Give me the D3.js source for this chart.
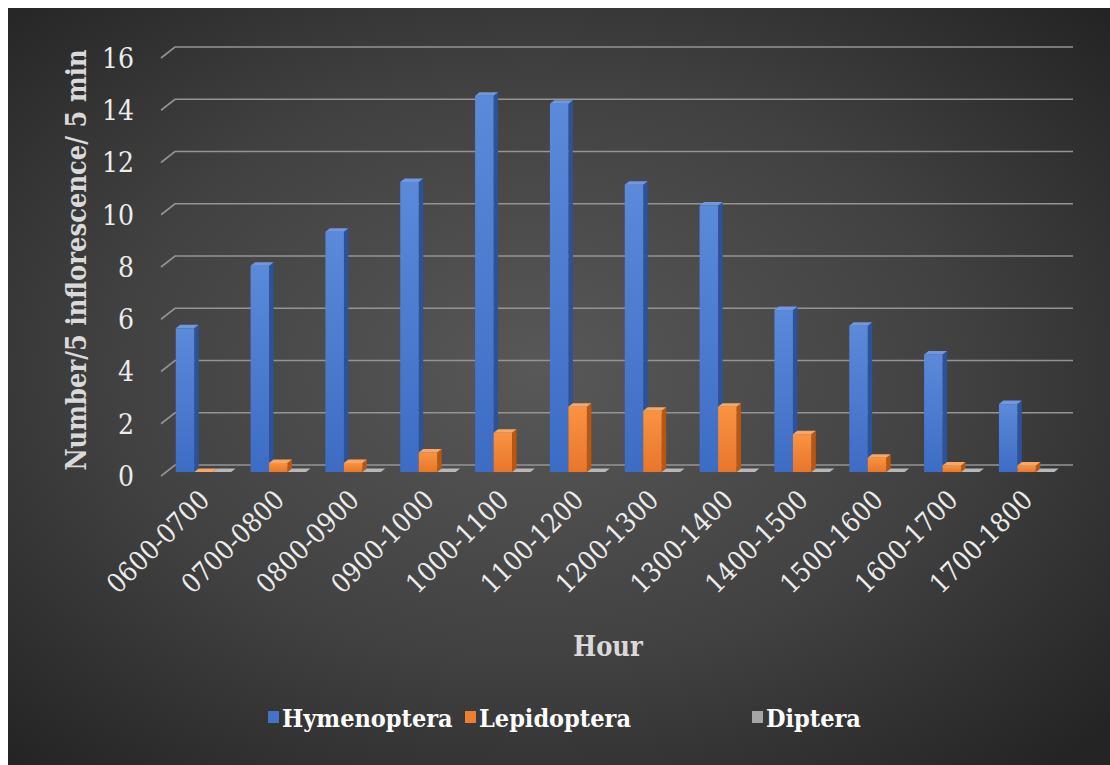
<!DOCTYPE html>
<html>
<head>
<meta charset="utf-8">
<script src="https://cdn.jsdelivr.net/npm/d3@7"></script>
<style>
  html, body { margin: 0; padding: 0; background: #ffffff; }
  svg { display: block; }
  svg text { font-family: "DejaVu Serif", serif; font-stretch: condensed; }
</style>
</head>
<body>
<svg id="chart" width="1110" height="765"></svg>
<script>
// Visits per 5 inflorescences per 5 minutes, by hour of day
const hours = ["0600-0700", "0700-0800", "0800-0900", "0900-1000", "1000-1100", "1100-1200",
               "1200-1300", "1300-1400", "1400-1500", "1500-1600", "1600-1700", "1700-1800"];
const seriesNames = ["Hymenoptera", "Lepidoptera", "Diptera"];
const hymenoptera = [5.5, 7.9, 9.2, 11.1, 14.4, 14.1, 11.0, 10.2, 6.2, 5.6, 4.5, 2.6];
const lepidoptera = [0, 0.35, 0.35, 0.75, 1.5, 2.5, 2.35, 2.5, 1.45, 0.55, 0.25, 0.25];
const diptera     = [0, 0, 0, 0, 0, 0, 0, 0, 0, 0, 0, 0];
const yTicks = [0, 2, 4, 6, 8, 10, 12, 14, 16];

const seriesValues = [hymenoptera, lepidoptera, diptera];
const palette = {
  Hymenoptera: { front: ["#5b8ada", "#3d6cc4"], side: "#2c5299", top: "#6f98e0", key: "#4472c4" },
  Lepidoptera: { front: ["#f99342", "#e8762a"], side: "#b9560f", top: "#f7a867", key: "#ed7d31" },
  Diptera:     { front: ["#b4b4b4", "#9c9c9c"], side: "#7b7b7b", top: "#b8b8b8", key: "#a5a5a5" }
};

const svg = d3.select("#chart");
const W = 1110, H = 765;
const defs = svg.append("defs");

// background: dark radial gradient, white margin at the top and left
const bg = defs.append("radialGradient").attr("id", "bg")
  .attr("cx", "48%").attr("cy", "48%").attr("r", "70%");
bg.append("stop").attr("offset", "0%").attr("stop-color", "#585858");
bg.append("stop").attr("offset", "55%").attr("stop-color", "#414141");
bg.append("stop").attr("offset", "100%").attr("stop-color", "#242424");
svg.append("rect").attr("x", 8).attr("y", 8).attr("width", W - 8).attr("height", H - 8)
  .attr("fill", "url(#bg)");

seriesNames.forEach(name => {
  const g = defs.append("linearGradient").attr("id", "grad-" + name)
    .attr("x1", 0).attr("y1", 0).attr("x2", 0).attr("y2", 1);
  g.append("stop").attr("offset", "0%").attr("stop-color", palette[name].front[0]);
  g.append("stop").attr("offset", "100%").attr("stop-color", palette[name].front[1]);
});

// 3D geometry: full depth of the floor, and the slice the bars occupy
const depthX = 14, depthY = -11;
const barT0 = 0.36, barT1 = 0.68;

// scales in the front plane
const x = d3.scaleBand().domain(hours).range([161, 1059]).paddingInner(0.26).paddingOuter(0.13);
const xs = d3.scaleBand().domain(seriesNames).range([0, x.bandwidth()]).padding(0);
const yFront = d3.scaleLinear().domain([0, 16]).range([476, 58]);

function at(px, py, t) { return [px + depthX * t, py + depthY * t]; }

// gridlines on the back wall with the diagonal on the left side wall
const grid = svg.append("g");
const x0 = x.range()[0], x1 = x.range()[1];
yTicks.forEach(v => {
  const yf = yFront(v);
  const a = at(x0, yf, 0), b = at(x0, yf, 1), c = at(x1, yf, 1);
  grid.append("path")
    .attr("d", `M${a[0]},${a[1]}L${b[0]},${b[1]}L${c[0]},${c[1]}`)
    .attr("fill", "none").attr("stroke", "#949494").attr("stroke-width", 1.6);
});

// y tick labels
svg.append("g").selectAll("text").data(yTicks).join("text")
  .attr("x", 134).attr("y", d => yFront(d)).attr("dy", "0.35em")
  .attr("text-anchor", "end").attr("fill", "#ececec").attr("font-size", 28)
  .text(d => d);

// bars, drawn back-to-front per category so overlaps read correctly
const bars = svg.append("g");
hours.forEach((h, i) => {
  seriesNames.forEach((name, s) => {
    const v = seriesValues[s][i];
    const bx = x(h) + xs(name), bw = xs.bandwidth();
    const yt = yFront(v), yb = yFront(0);
    const fTL = at(bx, yt, barT0), fTR = at(bx + bw, yt, barT0), fBR = at(bx + bw, yb, barT0);
    const bTL = at(bx, yt, barT1), bTR = at(bx + bw, yt, barT1), bBR = at(bx + bw, yb, barT1);
    const c = palette[name];
    // right side face
    bars.append("path")
      .attr("d", `M${fTR}L${bTR}L${bBR}L${fBR}Z`)
      .attr("fill", c.side);
    // front face
    bars.append("rect")
      .attr("x", fTL[0]).attr("y", fTL[1])
      .attr("width", bw).attr("height", Math.max(0, fBR[1] - fTL[1]))
      .attr("fill", `url(#grad-${name})`);
    // top face
    bars.append("path")
      .attr("d", `M${fTL}L${bTL}L${bTR}L${fTR}Z`)
      .attr("fill", c.top);
  });
});

// category labels, rotated
svg.append("g").selectAll("text").data(hours).join("text")
  .attr("transform", d => `translate(${x(d) + x.bandwidth() / 2 + 6},${495}) rotate(-45)`)
  .attr("text-anchor", "end").attr("dy", "0.35em")
  .attr("fill", "#ececec").attr("font-size", 27)
  .text(d => d);

// axis titles
svg.append("text")
  .attr("transform", "translate(86,260) rotate(-90)")
  .attr("text-anchor", "middle")
  .attr("fill", "#d9d9d9").attr("font-size", 27).attr("font-weight", "bold")
  .text("Number/5 inflorescence/ 5 min");

svg.append("text")
  .attr("x", 608).attr("y", 656).attr("text-anchor", "middle")
  .attr("fill", "#d9d9d9").attr("font-size", 27).attr("font-weight", "bold")
  .text("Hour");

// legend
const legendX = [268, 465, 752];
const legend = svg.append("g");
seriesNames.forEach((name, s) => {
  legend.append("rect").attr("x", legendX[s]).attr("y", 711)
    .attr("width", 11).attr("height", 12)
    .attr("fill", palette[name].key);
  legend.append("text")
    .attr("x", legendX[s] + 14).attr("y", 727)
    .attr("fill", "#ffffff").attr("font-size", 25).attr("font-weight", "bold")
    .text(name);
});
</script>
</body>
</html>
